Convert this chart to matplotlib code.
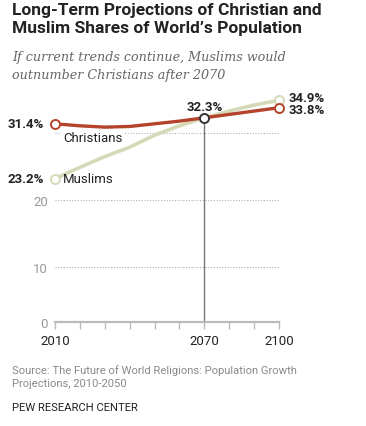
import numpy as np
import matplotlib
matplotlib.use("Agg")
import matplotlib.pyplot as plt

years = [2010, 2020, 2030, 2040, 2050, 2060, 2070, 2080, 2090, 2100]
christians = [31.4, 31.1, 30.9, 31.0, 31.4, 31.8, 32.3, 32.8, 33.3, 33.8]
muslims = [23.2, 24.9, 26.5, 27.9, 29.7, 31.1, 32.3, 33.3, 34.2, 34.9]
cross_year = 2070
cross_value = 32.3
ytick_values = [0, 10, 20, 30]
ytick_labels = ["0", "10", "20", ""]
xtick_labels = {2010: "2010", 2070: "2070", 2100: "2100"}

RED = "#b5432b"
PALE = "#d6d9b7"
GREY = "#999999"

plt.rcParams["font.family"] = ["Roboto", "DejaVu Sans"]


# the original squeezes the bottom of the axis (0-10 is shorter than 10-20)
def fwd(y):
    y = np.asarray(y, dtype=float)
    return np.where(y >= 10, y, 10 - (10 - y) * 55 / 67)


def inv(y):
    y = np.asarray(y, dtype=float)
    return np.where(y >= 10, y, 10 - (10 - y) * 67 / 55)


fig = plt.figure(figsize=(3.66, 4.27), dpi=100)
ax = fig.add_axes([55 / 366, 104 / 427, 224 / 366, 229 / 427])
ax.set_yscale("function", functions=(fwd, inv))
ax.set_xlim(2010, 2100)
ax.set_ylim(0, 36)

ax.plot(years, muslims, color=PALE, lw=2.6, solid_capstyle="round", zorder=3)
ax.plot(years, christians, color=RED, lw=2.4, solid_capstyle="round", zorder=4)

for series, col in [(muslims, PALE), (christians, RED)]:
    ax.plot([years[0], years[-1]], [series[0], series[-1]], ls="none", marker="o",
            ms=6.5, mfc="white", mec=col, mew=1.4, clip_on=False, zorder=5)

ax.plot([cross_year, cross_year], [0, cross_value], color="#777777", lw=1, zorder=2)
ax.plot([cross_year], [cross_value], ls="none", marker="o", ms=6.5, mfc="white",
        mec="#333333", mew=1.4, zorder=6)

ax.set_yticks(ytick_values)
ax.set_yticklabels(ytick_labels)
ax.set_xticks(years)
ax.set_xticklabels([xtick_labels.get(y, "") for y in years])
ax.grid(axis="y", ls=(0, (1, 1.5)), color="#b0b0b0", lw=0.8)
ax.grid(axis="x", visible=False)
ax.tick_params(axis="y", length=0, labelsize=9.5, labelcolor=GREY, pad=5)
ax.tick_params(axis="x", length=5, width=1, color="#bbbbbb", labelsize=9.5,
               labelcolor="#222222", pad=4, direction="out")
for s in ["top", "right", "left"]:
    ax.spines[s].set_visible(False)
ax.spines["bottom"].set_color("#bbbbbb")
ax.spines["bottom"].set_linewidth(1.6)
ax.set_axisbelow(True)

bold = dict(fontsize=9.5, fontweight="bold", color="#222222")
ax.annotate(f"{christians[0]}%", (years[0], christians[0]), xytext=(-8, 0),
            textcoords="offset points", ha="right", va="center", **bold)
ax.annotate(f"{muslims[0]}%", (years[0], muslims[0]), xytext=(-8, 0),
            textcoords="offset points", ha="right", va="center", **bold)
ax.annotate(f"{cross_value}%", (cross_year, cross_value), xytext=(0, 8),
            textcoords="offset points", ha="center", va="center", **bold)
ax.annotate(f"{muslims[-1]}%", (years[-1], muslims[-1]), xytext=(7, 2),
            textcoords="offset points", ha="left", va="center", **bold)
ax.annotate(f"{christians[-1]}%", (years[-1], christians[-1]), xytext=(7, -1.5),
            textcoords="offset points", ha="left", va="center", **bold)

ax.annotate("Christians", (years[0], christians[0]), xytext=(6, -10),
            textcoords="offset points", ha="left", va="center", fontsize=9.5,
            color="#222222", bbox=dict(fc="white", ec="none", pad=1.5), zorder=7)
ax.annotate("Muslims", (years[0], muslims[0]), xytext=(6, 0),
            textcoords="offset points", ha="left", va="center", fontsize=9.5,
            color="#222222", zorder=7)

fig.text(12 / 366, 1 - 3 / 427, "Long-Term Projections of Christian and\nMuslim Shares of World’s Population",
         ha="left", va="top", fontsize=12.5, fontweight="bold", color="#222222",
         linespacing=1.22)
fig.text(12 / 366, 1 - 51 / 427, "If current trends continue, Muslims would\noutnumber Christians after 2070",
         ha="left", va="top", fontsize=9.2, style="italic", color="#666666",
         family="DejaVu Serif", linespacing=1.45)
fig.text(12 / 366, 1 - 365 / 427, "Source: The Future of World Religions: Population Growth\nProjections, 2010-2050",
         ha="left", va="top", fontsize=8.1, color="#8a8a8a", linespacing=1.35)
fig.text(12 / 366, 1 - 403 / 427, "PEW RESEARCH CENTER", ha="left", va="top",
         fontsize=8.1, color="#222222")

fig.savefig("out.png", dpi=100, facecolor="white")
